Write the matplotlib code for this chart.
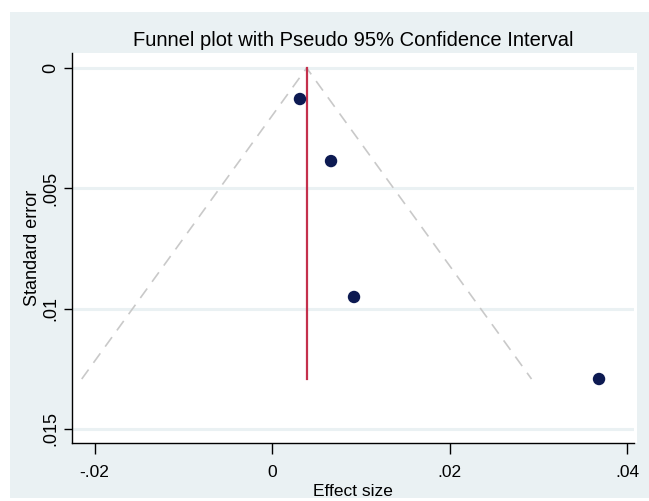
import matplotlib
matplotlib.use("Agg")
import matplotlib.pyplot as plt
import numpy as np

# Data
effect_size = [0.00315, 0.00665, 0.00924, 0.03685]
std_error = [0.00129, 0.00387, 0.00952, 0.01293]
pooled_effect = 0.0039
x_ticks = [-0.02, 0.0, 0.02, 0.04]
x_tick_labels = ["-.02", "0", ".02", ".04"]
y_ticks = [0.0, 0.005, 0.01, 0.015]
y_tick_labels = ["0", ".005", ".01", ".015"]

plt.rcParams['font.family'] = ['Liberation Sans', 'DejaVu Sans']

W, H = 649, 501
fig = plt.figure(figsize=(W / 100, H / 100), dpi=100)
fig.patch.set_facecolor("white")
bg = "#eaf1f3"
bgax = fig.add_axes([10 / W, 1 - 498 / H, 1 - 10 / W, (498 - 12) / H], zorder=0)
bgax.set_facecolor(bg)
bgax.set_xticks([])
bgax.set_yticks([])
for s in bgax.spines.values():
    s.set_visible(False)

# white plot region (slightly wider than the axis lines)
fig.add_artist(plt.Rectangle((73 / W, 1 - 443 / H), (637 - 73) / W, (443 - 53) / H,
                             transform=fig.transFigure, facecolor="white", edgecolor="none", zorder=1))

ax = fig.add_axes([72 / W, 1 - 443 / H, (634 - 72) / W, (443 - 53) / H], zorder=2)
ax.set_facecolor("none")

for t in y_ticks:
    ax.axhline(t, color=bg, lw=2.2, zorder=1)

max_se = max(std_error)
ax.plot([pooled_effect - 1.96 * max_se, pooled_effect, pooled_effect + 1.96 * max_se],
        [max_se, 0, max_se], ls=(0, (7, 5)), color="#c9c9c9", lw=1.2, zorder=2)
ax.plot([pooled_effect, pooled_effect], [0, max_se], color="#c4304c", lw=1.6, zorder=3)
ax.scatter(effect_size, std_error, s=80, color="#0d1a52", zorder=4, edgecolors="none")

ax.set_xlim(-0.02254, 0.04079)
ax.set_ylim(0.01559, -0.000623)
ax.set_xticks(x_ticks)
ax.set_xticklabels(x_tick_labels, fontsize=12.5)
ax.set_yticks(y_ticks)
ax.set_yticklabels(y_tick_labels, fontsize=13, rotation=90, va="center")
for s in ["top", "right"]:
    ax.spines[s].set_visible(False)
for s in ["left", "bottom"]:
    ax.spines[s].set_color("black")
    ax.spines[s].set_linewidth(1.0)
ax.tick_params(axis="x", direction="out", length=8, width=1, colors="black", pad=8)
ax.tick_params(axis="y", direction="out", length=6, width=1, colors="black", pad=3)

ax.set_xlabel("Effect size", fontsize=12.5, labelpad=3)
ax.set_ylabel("Standard error", fontsize=13, labelpad=1)
ax.set_title("Funnel plot with Pseudo 95% Confidence Interval", fontsize=14.5, pad=5)

fig.savefig("out.png", dpi=100, facecolor=fig.get_facecolor())
